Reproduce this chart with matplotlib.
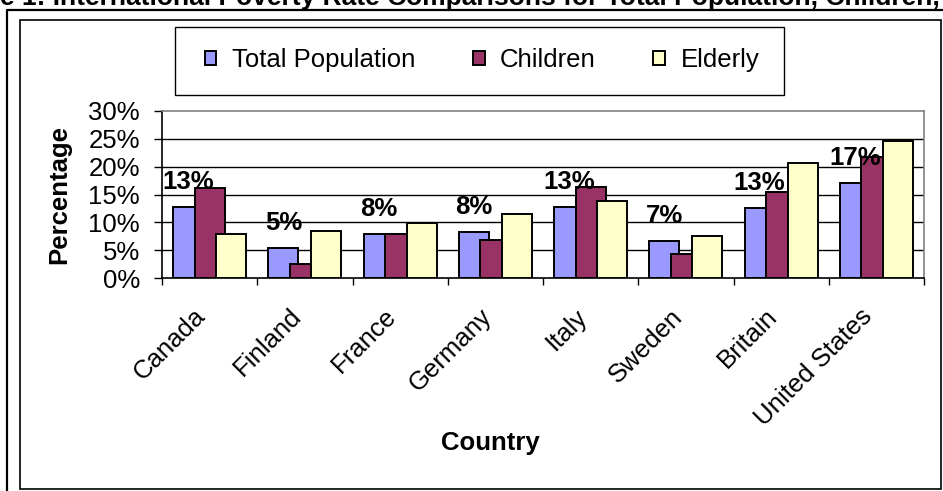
import numpy as np
import matplotlib.pyplot as plt
import matplotlib.transforms as mtransforms
from matplotlib.patches import Rectangle, Patch
from matplotlib.lines import Line2D

plt.rcParams['font.family'] = ['Liberation Sans', 'DejaVu Sans']

countries = ['Canada', 'Finland', 'France', 'Germany', 'Italy', 'Sweden', 'Britain', 'United States']
total = [12.8, 5.3, 7.9, 8.2, 12.8, 6.6, 12.6, 17.1]
children = [16.1, 2.6, 7.9, 6.8, 16.4, 4.3, 15.4, 21.8]
elderly = [7.9, 8.5, 9.9, 11.5, 13.8, 7.6, 20.7, 24.7]
series_names = ['Total Population', 'Children', 'Elderly']
colors = ['#9999FF', '#993366', '#FFFFCC']
y_ticks = [0, 5, 10, 15, 20, 25, 30]

title = 'Figure 1: International Poverty Rate Comparisons for Total Population, Children, and Elderly'

W, H = 943, 491
FS = 18.5
fig = plt.figure(figsize=(W / 100, H / 100), dpi=100)


def fx(px):
    return px / W


def fy(py):
    return 1 - py / H


ax = fig.add_axes([fx(162), fy(278), fx(924) - fx(162), fy(111) - fy(278)])

x = np.arange(len(countries))
width = 0.315
step = 0.226
for i, (vals, col) in enumerate(zip([total, children, elderly], colors)):
    ax.bar(x + (i - 1) * step, vals, width, color=col, edgecolor='black',
           linewidth=1.4, zorder=2 + i)

# value labels over the total population bars
for xi, v in zip(x, total):
    ax.annotate(f'{v:.0f}%', (xi - step, v), xytext=(0, 13), textcoords='offset points',
                ha='center', va='baseline', fontsize=FS, fontweight='bold', zorder=10)

ax.set_xlim(-0.5, len(countries) - 0.5)
ax.set_ylim(0, 30)
ax.set_yticks(y_ticks)
ax.set_yticklabels([f'{t}%' for t in y_ticks], fontsize=FS)
ax.tick_params(axis='y', length=6, width=1, pad=10)

ax.set_xticks(x)
ax.set_xticklabels(countries, fontsize=FS, rotation=45, ha='right', rotation_mode='anchor')
ax.set_xticks(np.arange(len(countries) + 1) - 0.5, minor=True)
ax.tick_params(axis='x', which='major', length=0, pad=16)
ax.tick_params(axis='x', which='minor', length=5, width=1)
nudge = mtransforms.ScaledTranslation(-0.16, -0.04, fig.dpi_scale_trans)
for lbl in ax.get_xticklabels():
    lbl.set_transform(lbl.get_transform() + nudge)

for t in y_ticks[1:-1]:
    ax.axhline(t, color='black', linewidth=1, zorder=1)

ax.spines['left'].set_color('black')
ax.spines['bottom'].set_color('black')
ax.spines['top'].set_color('#808080')
ax.spines['right'].set_color('#808080')
for s in ax.spines.values():
    s.set_linewidth(1.2)

ax.set_ylabel('Percentage', fontsize=FS, fontweight='bold')
ax.yaxis.set_label_coords((71 - 162) / 762, 0.5)
ax.set_xlabel('Country', fontsize=FS, fontweight='bold')
ax.xaxis.set_label_coords((490 - 162) / 762, -(431 - 278) / 167)

# legend box
fig.patches.append(Rectangle((fx(175), fy(95)), fx(784) - fx(175), fy(27) - fy(95),
                             transform=fig.transFigure, fill=False, edgecolor='black',
                             linewidth=1))
handles = [Patch(facecolor=c, edgecolor='black', linewidth=1.4) for c in colors]
fig.legend(handles, series_names, loc='center', bbox_to_anchor=(fx(482), fy(60)),
           ncol=3, frameon=False, fontsize=FS, handlelength=0.45, handleheight=0.45,
           handletextpad=0.6, columnspacing=2.25, borderpad=0)

# chart frames
fig.add_artist(Line2D([fx(7), fx(7), 1.01], [-0.01, fy(10), fy(10)], color='black',
                      linewidth=1.6, transform=fig.transFigure))
fig.patches.append(Rectangle((fx(20), fy(489)), fx(941) - fx(20), fy(20) - fy(489),
                             transform=fig.transFigure, fill=False, edgecolor='black',
                             linewidth=1.2))

# title sits partly above the top edge
TFS = 19
renderer = fig.canvas.get_renderer()
probe = fig.text(0, 0, 'Figur', fontsize=TFS, fontweight='bold')
shift = probe.get_window_extent(renderer).width
probe.remove()
fig.text(-shift / W, fy(5), title, fontsize=TFS, fontweight='bold', ha='left', va='baseline')

fig.savefig('out.png', dpi=100)
